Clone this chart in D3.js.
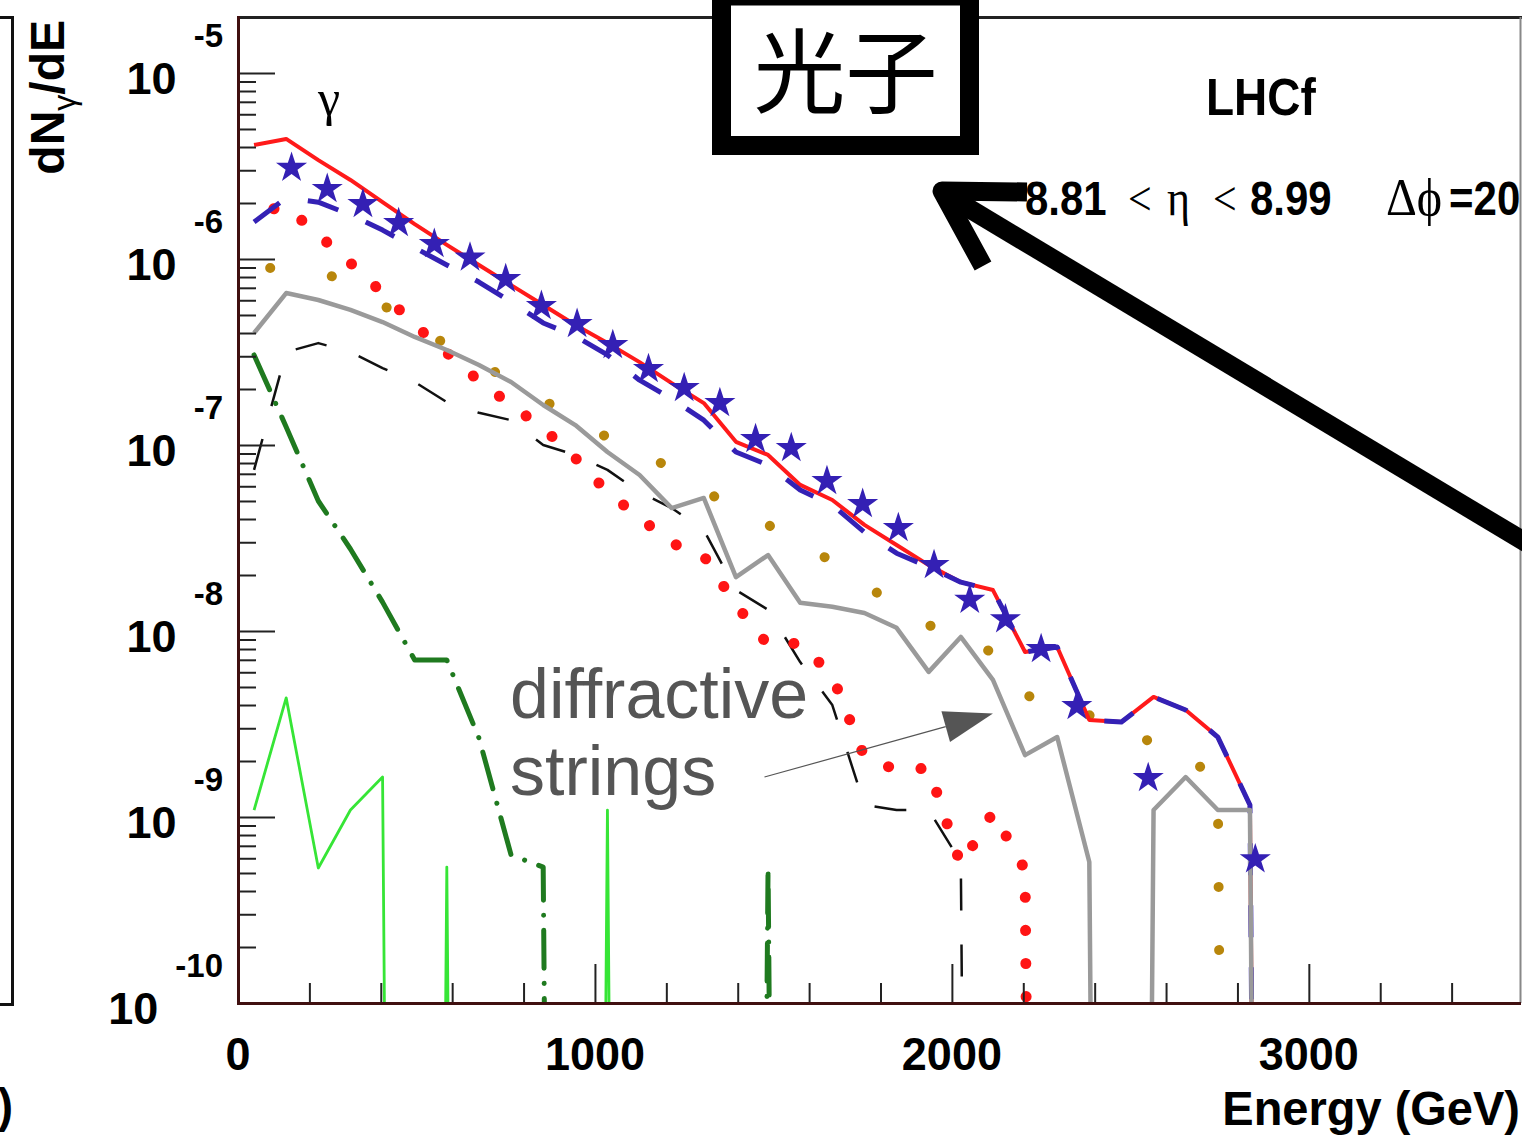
<!DOCTYPE html>
<html><head><meta charset="utf-8">
<script src="https://cdn.jsdelivr.net/npm/d3@7"></script>
<style>html,body{margin:0;padding:0;background:#fff;}svg{display:block;}</style>
</head><body>
<svg id="chart" width="1522" height="1143"></svg>
<script>
// ---------------- data ----------------
// line histograms: 90 GeV bins, bin centres
const lineEnergies = [45,135,225,315,405,495,585,675,765,855,945,1035,1125,1215,1305,1395,1485,1575,1665,1755,1845,1935,2025,2115,2205,2295,2385,2475,2565,2655,2745,2835,2925];
const redSolid = [4.10e-6,4.42e-6,3.40e-6,2.66e-6,2.02e-6,1.54e-6,1.19e-6,9.29e-7,7.24e-7,5.66e-7,4.42e-7,3.53e-7,2.79e-7,2.15e-7,1.68e-7,1.04e-7,8.84e-8,6.10e-8,5.06e-8,3.72e-8,2.90e-8,2.26e-8,1.83e-8,1.66e-8,7.71e-9,8.20e-9,3.32e-9,3.24e-9,4.42e-9,3.76e-9,2.69e-9,1.16e-9,0];
const blueDashed = [1.58e-6,2.13e-6,2.02e-6,1.73e-6,1.43e-6,1.15e-6,9.29e-7,7.52e-7,5.87e-7,4.53e-7,3.85e-7,3.05e-7,2.23e-7,1.77e-7,1.36e-7,9.17e-8,7.80e-8,5.73e-8,4.75e-8,3.40e-8,2.62e-8,2.21e-8,1.83e-8,1.66e-8,7.71e-9,8.20e-9,3.32e-9,3.24e-9,4.42e-9,3.76e-9,2.69e-9,1.16e-9,0];
const redDotted = [1.79e-6,1.91e-6,1.35e-6,9.51e-7,6.56e-7,4.42e-7,3.13e-7,2.21e-7,1.64e-7,1.23e-7,8.51e-8,5.58e-8,4.06e-8,2.97e-8,2.53e-8,1.38e-8,8.41e-9,8.61e-9,5.73e-9,2.10e-9,1.79e-9,1.83e-9,5.52e-10,1.06e-9,5.19e-10,0,0,0,0,0,0,0,0];
const brownDotted = [8.95e-7,8.95e-7,8.73e-7,7.24e-7,5.66e-7,4.42e-7,3.45e-7,2.76e-7,2.21e-7,1.75e-7,1.36e-7,1.10e-7,9.06e-8,7.52e-8,5.73e-8,4.48e-8,3.72e-8,3.01e-8,2.35e-8,1.77e-8,1.38e-8,1.08e-8,8.73e-9,7.71e-9,4.53e-9,4.00e-9,3.53e-9,2.83e-9,2.53e-9,2.35e-9,1.40e-9,0,0];
const grayLine = [4.00e-7,6.56e-7,6.02e-7,5.32e-7,4.58e-7,3.81e-7,3.24e-7,2.69e-7,2.18e-7,1.64e-7,1.28e-7,9.17e-8,6.90e-8,4.58e-8,5.19e-8,1.95e-8,2.56e-8,1.42e-8,1.35e-8,1.25e-8,1.04e-8,6.03e-9,9.29e-9,5.46e-9,2.15e-9,2.69e-9,5.73e-10,0,1.09e-9,1.64e-9,1.09e-9,1.09e-9,0];
const blackDashed = [7.35e-8,3.16e-7,3.53e-7,3.16e-7,2.59e-7,2.18e-7,1.70e-7,1.49e-7,1.36e-7,1.00e-7,8.84e-8,7.35e-8,5.58e-8,4.58e-8,3.49e-8,1.66e-8,1.30e-8,6.81e-9,4.00e-9,1.16e-9,1.09e-9,1.09e-9,5.73e-10,0,0,0,0,0,0,0,0,0,0];
const darkGreen = [3.05e-7,1.25e-7,5.00e-8,2.76e-8,1.43e-8,6.98e-9,6.98e-9,2.66e-9,6.25e-10,5.38e-10,0,0,0,0,0,0,5.38e-10,0,0,0,0,0,0,0,0,0,0,0,0,0,0,0,0];
const limeLine = [1.09e-9,4.37e-9,5.32e-10,1.09e-9,1.64e-9,0,5.38e-10,0,0,0,0,1.09e-9,0,0,0,0,0,0,0,0,0,0,0,0,0,0,0,0,0,0,0,0,0];
// star markers: 100 GeV spacing
const starEnergies = [150,250,350,450,550,650,750,850,950,1050,1150,1250,1350,1450,1550,1650,1750,1850,1950,2050,2150,2250,2350,2550,2850];
const starValues = [3.13e-6,2.41e-6,2.00e-6,1.58e-6,1.22e-6,1.03e-6,7.90e-7,5.66e-7,4.53e-7,3.49e-7,2.59e-7,2.05e-7,1.70e-7,1.09e-7,9.75e-8,6.48e-8,4.88e-8,3.62e-8,2.29e-8,1.49e-8,1.17e-8,8.10e-9,4.00e-9,1.64e-9,6.00e-10];
// axis ticks
const xTickLabels = [0,1000,2000,3000];
const yTickExponents = [-10,-9,-8,-7,-6,-5];
// annotation anchor (energy, value)
const annTail = [1475, 1.64e-9];
const annTip = [2115, 3.6e-9];

// ---------------- drawing ----------------
const SANS = "'Liberation Sans', Arial, Helvetica, sans-serif";
const SERIF = "'Liberation Serif', 'Times New Roman', serif";
const svg = d3.select('#chart');
svg.append('rect').attr('width',1522).attr('height',1143).attr('fill','#fff');

const x = d3.scaleLinear().domain([0,3600]).range([238,1523]);
const y = d3.scaleLog().domain([1e-10,2e-5]).range([1003,17]);
const FLOOR = 1e-30; // ROOT draws empty bins of a log plot far below the frame

svg.append('clipPath').attr('id','plotclip').append('rect')
  .attr('x',238).attr('y',17).attr('width',1282).attr('height',986);

// previous panel's frame remnant
svg.append('path').attr('d','M0,17.5H12.5V1004.5H0').attr('fill','none').attr('stroke','#111').attr('stroke-width',3);

const g = svg.append('g').attr('clip-path','url(#plotclip)');
const line = d3.line().x(d=>x(d[0])).y(d=>y(Math.max(d[1],FLOOR)));
const mk = vals => lineEnergies.map((e,i)=>[e,vals[i]]);

const series = [
  {vals:blackDashed, color:'#111', w:2.5, dash:'32,34', cap:'butt'},
  {vals:limeLine, color:'#36e536', w:2.8},
  {vals:darkGreen, color:'#1f7a1f', w:5, dash:'38,15,0.1,15', cap:'round'},
  {vals:brownDotted, color:'#b8860b', w:10, dash:'0.1,63', cap:'round', off:47},
  {vals:redDotted, color:'#ff1414', w:11, dash:'0.1,33', cap:'round', off:13},
  {vals:redSolid, color:'#ff1a1a', w:4},
  {vals:blueDashed, color:'#3421b5', w:5, dash:'32,30', cap:'butt'},
  {vals:grayLine, color:'#9a9a9a', w:4.5}
];
series.forEach(s=>{
  const p = g.append('path').attr('d',line(mk(s.vals))).attr('fill','none')
    .attr('stroke',s.color).attr('stroke-width',s.w).attr('stroke-linejoin','round');
  if (s.dash) p.attr('stroke-dasharray',s.dash).attr('stroke-linecap',s.cap).attr('stroke-dashoffset',s.off||0);
});
const star = d3.symbol().type(d3.symbolStar).size(300);
g.selectAll('path.star').data(starEnergies.map((e,i)=>[e,starValues[i]])).join('path')
  .attr('class','star').attr('d',star)
  .attr('transform',d=>`translate(${x(d[0])},${y(d[1])+1})`)
  .attr('fill','#3420b4');

// frame
svg.append('line').attr('x1',238).attr('x2',1522).attr('y1',17.5).attr('y2',17.5).attr('stroke','#222').attr('stroke-width',3);
svg.append('line').attr('x1',1520.5).attr('x2',1520.5).attr('y1',17).attr('y2',1003).attr('stroke','#888').attr('stroke-width',2);

// y axis ticks
const yAll = y.ticks();
const yMaj = yAll.filter(v=>Math.abs(Math.log10(v)-Math.round(Math.log10(v)))<1e-6);
const yMin = yAll.filter(v=>!yMaj.includes(v));
const ya1 = svg.append('g').attr('transform','translate(238,0)').call(d3.axisRight(y).tickValues(yMaj).tickSize(37).tickFormat(''));
const ya2 = svg.append('g').attr('transform','translate(238,0)').call(d3.axisRight(y).tickValues(yMin).tickSize(18).tickFormat(''));
// x axis ticks
const xMaj = xTickLabels;
const xMin = d3.range(0,3601,200).filter(v=>!xMaj.includes(v));
const xa1 = svg.append('g').attr('transform','translate(0,1003)').call(d3.axisTop(x).tickValues(xMaj).tickSize(39).tickFormat(''));
const xa2 = svg.append('g').attr('transform','translate(0,1003)').call(d3.axisTop(x).tickValues(xMin).tickSize(20).tickFormat(''));
[ya1,ya2,xa1,xa2].forEach(a=>{a.select('.domain').remove(); a.selectAll('line').attr('stroke','#222').attr('stroke-width',2);});
// axis lines
svg.append('line').attr('x1',238.5).attr('x2',238.5).attr('y1',16).attr('y2',1004.5).attr('stroke','#401010').attr('stroke-width',3);
svg.append('line').attr('x1',237).attr('x2',1521).attr('y1',1003.5).attr('y2',1003.5).attr('stroke','#401010').attr('stroke-width',3);

function txt(x0,y0,str,o){
  o=o||{};
  return svg.append('text').attr('transform',`translate(${x0},${y0}) scale(1,${o.sy||1})`)
    .attr('text-anchor',o.anchor||'start').attr('font-family',o.family||SANS)
    .attr('font-weight',o.weight||'bold').attr('font-size',o.size||45)
    .attr('fill',o.fill||'#000').text(str);
}
// y labels 10^n
yTickExponents.forEach(e=>{
  const ty = y(Math.pow(10,e));
  const ex = svg.append('text').attr('x',223).attr('y',ty-26).attr('text-anchor','end')
    .attr('font-family',SANS).attr('font-weight','bold').attr('font-size',33).text(String(e));
  const bb = ex.node().getBBox();
  svg.append('text').attr('x',bb.x-17).attr('y',ty+21).attr('text-anchor','end')
    .attr('font-family',SANS).attr('font-weight','bold').attr('font-size',45).text('10');
});
// x labels
xTickLabels.forEach(v=>txt(x(v),1070,String(v),{anchor:'middle',size:45,sy:1.04}));
txt(1520,1125,'Energy (GeV)',{anchor:'end',size:47,sy:1.04});
txt(13,1122,')',{anchor:'end',size:46,sy:1.04});

// y title
const yt = svg.append('text').attr('transform','translate(64,20) rotate(-90)').attr('text-anchor','end')
  .attr('font-family',SANS).attr('font-weight','bold').attr('font-size',48);
yt.append('tspan').text('dN');
yt.append('tspan').attr('font-size',32).attr('dy',11).attr('font-weight','normal').text('γ');
yt.append('tspan').attr('dy',-11).text('/dE');

// in-plot labels
txt(329,115,'γ',{anchor:'middle',family:SERIF,weight:'normal',size:50});
txt(1206,115,'LHCf',{size:46,sy:1.12});
txt(1025,215,'8.81',{size:42,sy:1.15});
txt(1128,215,'<',{size:42,sy:1.15,family:SERIF,weight:'normal'});
txt(1167,215,'η',{size:44,sy:1.15,family:SERIF,weight:'normal'});
txt(1213,215,'<',{size:42,sy:1.15,family:SERIF,weight:'normal'});
txt(1250,215,'8.99',{size:42,sy:1.15});
txt(1386,215,'Δϕ',{size:48,sy:1.1,family:SERIF,weight:'normal'});
txt(1449,215,'=20',{size:42,sy:1.15});

// "diffractive strings" annotation
txt(510,718,'diffractive',{weight:'normal',size:70,fill:'#555'});
txt(510,795,'strings',{weight:'normal',size:70,fill:'#555'});
const tx0=x(annTail[0]), ty0=y(annTail[1]), tx1=x(annTip[0]), ty1=y(annTip[1]);
const L=Math.hypot(tx1-tx0,ty1-ty0), ux=(tx1-tx0)/L, uy=(ty1-ty0)/L;
const bxc=tx1-ux*49, byc=ty1-uy*49;
svg.append('line').attr('x1',tx0).attr('y1',ty0).attr('x2',bxc).attr('y2',byc).attr('stroke','#555').attr('stroke-width',1.2);
svg.append('path').attr('d',`M${tx1},${ty1}L${bxc-uy*16},${byc+ux*16}L${bxc+uy*16},${byc-ux*16}Z`).attr('fill','#555');

// overlay: boxed 光子 and big arrow
svg.append('rect').attr('x',721.5).attr('y',-4).attr('width',248).attr('height',149.5)
  .attr('fill','#fff').attr('stroke','#000').attr('stroke-width',19);
svg.append('text').attr('x',845.5).attr('y',106).attr('text-anchor','middle')
  .attr('font-family',"'Noto Sans CJK JP','Noto Sans CJK SC',sans-serif").attr('font-size',92).text('光子');
svg.append('line').attr('x1',950).attr('y1',197).attr('x2',1580).attr('y2',575).attr('stroke','#000').attr('stroke-width',19);
svg.append('path').attr('d','M1027,192L942,191L983,266').attr('fill','none').attr('stroke','#000')
  .attr('stroke-width',19).attr('stroke-linejoin','round');
</script>
</body></html>
